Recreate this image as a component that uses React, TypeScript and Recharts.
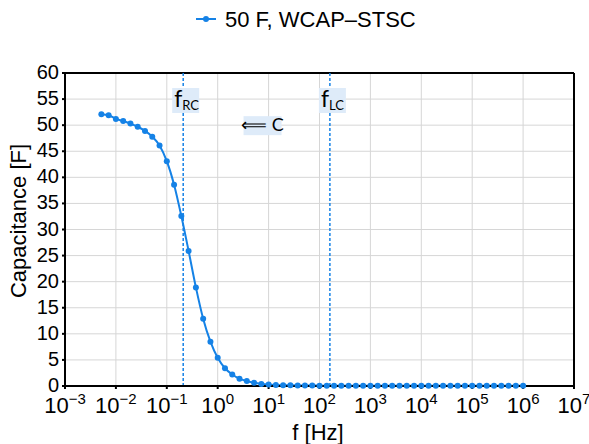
import {
  LineChart,
  Line,
  XAxis,
  YAxis,
  CartesianGrid,
  ReferenceLine,
  ReferenceDot,
} from 'recharts';

// sweep frequencies, 7 points per decade (Hz)
const freqHz = [
  0.00518, 0.0072, 0.01, 0.0139, 0.0193, 0.0268, 0.0373, 0.0518, 0.072,
  0.1, 0.139, 0.193, 0.268, 0.373, 0.518, 0.72,
  1, 1.39, 1.93, 2.68, 3.73, 5.18, 7.2,
  10, 13.9, 19.3, 26.8, 37.3, 51.8, 72,
  100, 139, 193, 268, 373, 518, 720,
  1000, 1390, 1930, 2680, 3730, 5180, 7200,
  1e4, 1.39e4, 1.93e4, 2.68e4, 3.73e4, 5.18e4, 7.2e4,
  1e5, 1.39e5, 1.93e5, 2.68e5, 3.73e5, 5.18e5, 7.2e5,
  1e6,
];

// measured capacitance (F)
const capF = [
  52.1, 51.9, 51.2, 50.8, 50.3, 49.7, 48.9, 47.8, 46.1,
  43.1, 38.6, 32.6, 25.9, 18.9, 12.9, 8.5,
  5.4, 3.4, 2.2, 1.4, 0.95, 0.62, 0.4,
  0.27, 0.2, 0.15, 0.12, 0.1, 0.09, 0.08,
  0.07, 0.07, 0.06, 0.06, 0.05, 0.05, 0.05,
  0.05, 0.04, 0.04, 0.04, 0.04, 0.04, 0.04,
  0.04, 0.03, 0.03, 0.03, 0.03, 0.03, 0.03,
  0.03, 0.03, 0.03, 0.03, 0.03, 0.03, 0.03,
  0.03,
];

const decadeTicks = [1e-3, 1e-2, 1e-1, 1e0, 1e1, 1e2, 1e3, 1e4, 1e5, 1e6, 1e7];
const capTicks = [0, 5, 10, 15, 20, 25, 30, 35, 40, 45, 50, 55, 60];

const seriesName = '50 F, WCAP\u2013STSC';
const fRC = 0.21;
const fLC = 160;
const noteF = 7.6;
const noteC = 50;

const data = freqHz.map((f, i) => ({ f, c: capF[i] }));

const BLUE = '#1582e6';
const BOX = '#deebf9';
const FONT = '"Liberation Sans", Arial, sans-serif';
const NOTE_FONT = 'Lato, "Open Sans", sans-serif';

const DecadeTick = ({ x, y, payload }: any) => {
  const exp = Math.round(Math.log10(payload.value));
  const expText = exp < 0 ? `\u2212${-exp}` : `${exp}`;
  return (
    <text x={x} y={y + 22} textAnchor="middle" fontFamily={FONT} fontSize={22} fill="#000">
      <tspan>10</tspan>
      <tspan dy={-9} fontSize={15}>{expText}</tspan>
    </text>
  );
};

const CapTick = ({ x, y, payload }: any) => (
  <text x={x - 1} y={y + 6} textAnchor="end" fontFamily={FONT} fontSize={20} fill="#000">
    {payload.value}
  </text>
);

// "f" with a subscript, on a pale box, hanging from the top of a marker line
const markerLabel = (sub: string) => (props: any) => {
  const x = props.viewBox.x;
  return (
    <g>
      <rect x={x - 11} y={88} width={27} height={25} fill={BOX} />
      <text x={x - 9} y={107} fontFamily={NOTE_FONT} fontSize={23} fill="#000">
        <tspan>f</tspan>
        <tspan fontSize={13} dy={3}>{sub}</tspan>
      </text>
    </g>
  );
};

const noteLabel = (props: any) => {
  const cx = props.viewBox.x + props.viewBox.width / 2;
  const cy = props.viewBox.y + props.viewBox.height / 2;
  return (
    <g>
      <rect x={cx - 19} y={cy - 9} width={38} height={19} fill={BOX} />
      <text x={cx} y={cy + 6} textAnchor="middle" fontFamily={NOTE_FONT} fontSize={18} fill="#000">
        {'\u27F8 C'}
      </text>
    </g>
  );
};

export default function App() {
  return (
    <div style={{ position: 'relative', width: 589, height: 444, background: '#fff' }}>
      <style>{'body{margin:0}'}</style>
      {/* legend */}
      <svg width={589} height={50} style={{ position: 'absolute', left: 0, top: 0 }}>
        <line x1={196} y1={19} x2={216} y2={19} stroke={BLUE} strokeWidth={2} />
        <circle cx={206} cy={19} r={3} fill={BLUE} />
        <text x={225} y={27} fontFamily={FONT} fontSize={22} fill="#000">
          {seriesName}
        </text>
      </svg>
      <LineChart
        width={589}
        height={444}
        data={data}
        margin={{ top: 73, right: 15, bottom: 0, left: 0 }}
      >
        <CartesianGrid stroke="#d6d6d6" strokeWidth={1} />
        <XAxis
          dataKey="f"
          type="number"
          scale="log"
          domain={[1e-3, 1e7]}
          ticks={decadeTicks}
          allowDataOverflow
          height={58}
          stroke="#000"
          strokeWidth={2}
          tickSize={3}
          tick={<DecadeTick />}
          interval={0}
          label={{
            content: () => (
              <text x={318} y={440} textAnchor="middle" fontFamily={FONT} fontSize={22} fill="#000">
                f [Hz]
              </text>
            ),
          }}
        />
        <YAxis
          type="number"
          domain={[0, 60]}
          ticks={capTicks}
          interval={0}
          width={65}
          stroke="#000"
          strokeWidth={2}
          tickSize={3}
          tick={<CapTick />}
          label={{
            content: () => (
              <text
                x={26}
                y={221}
                transform="rotate(-90 26 221)"
                textAnchor="middle"
                fontFamily={FONT}
                fontSize={22}
                fill="#000"
              >
                Capacitance [F]
              </text>
            ),
          }}
        />
        <ReferenceLine y={60} stroke="#000" strokeWidth={2} />
        <ReferenceLine x={1e7} stroke="#000" strokeWidth={2} />
        <ReferenceLine
          x={fRC}
          stroke={BLUE}
          strokeWidth={1.5}
          strokeDasharray="3 2"
          label={{ content: markerLabel('RC') }}
        />
        <ReferenceLine
          x={fLC}
          stroke={BLUE}
          strokeWidth={1.5}
          strokeDasharray="3 2"
          label={{ content: markerLabel('LC') }}
        />
        <ReferenceDot
          x={noteF}
          y={noteC}
          r={0}
          fill="none"
          stroke="none"
          label={{ content: noteLabel }}
        />
        <Line
          dataKey="c"
          type="monotone"
          stroke={BLUE}
          strokeWidth={2}
          dot={{ r: 3, fill: BLUE, stroke: BLUE, strokeWidth: 0 }}
          isAnimationActive={false}
        />
      </LineChart>
    </div>
  );
}
